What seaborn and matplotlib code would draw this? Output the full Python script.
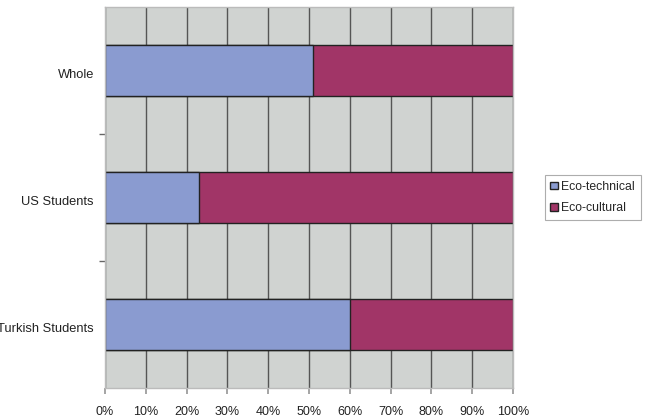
import matplotlib
matplotlib.use("Agg")
import matplotlib.pyplot as plt
import matplotlib.transforms as mtrans
import seaborn as sns
import pandas as pd

groups = ["Whole", "US Students", "Turkish Students"]
eco_technical = [51, 23, 60]
eco_cultural = [49, 77, 40]
x_ticks = [0, 10, 20, 30, 40, 50, 60, 70, 80, 90, 100]

blue = "#8a9bd0"
crimson = "#a13567"

sns.set_theme(style="white")
plt.rcParams["font.family"] = ["Liberation Sans", "DejaVu Sans"]

df = pd.DataFrame({"group": groups, "tech": eco_technical,
                   "total": [a + b for a, b in zip(eco_technical, eco_cultural)]})

fig = plt.figure(figsize=(6.48, 4.17), dpi=100)
ax = fig.add_axes([105 / 648, 29 / 417, 408 / 648, 381 / 417])
ax.set_facecolor("#d0d3d1")

# stacked: full bar in crimson, eco-technical part drawn over it
sns.barplot(data=df, y="group", x="total", order=groups, color=crimson,
            width=0.4, edgecolor="#222222", linewidth=1, saturation=1,
            ax=ax, label="Eco-cultural")
sns.barplot(data=df, y="group", x="tech", order=groups, color=blue,
            width=0.4, edgecolor="#222222", linewidth=1, saturation=1,
            ax=ax, label="Eco-technical")

ax.set_xlim(0, 100)
ax.set_ylim(2.5, -0.5)
ax.set_xticks(x_ticks)
ax.set_xticklabels([f"{t}%" for t in x_ticks], fontsize=9, color="#222222")
ax.xaxis.grid(True, color="#555555", linewidth=1)
ax.set_axisbelow(True)
ax.set_xlabel("")
ax.set_ylabel("")

ax.set_yticks([0, 1, 2])
ax.set_yticklabels(groups, fontsize=9.3, color="#222222")
ax.set_yticks([0.5, 1.5], minor=True)
ax.tick_params(axis="y", which="major", length=0, pad=8)
ax.tick_params(axis="y", which="minor", length=4, color="#666666", left=True)
ax.tick_params(axis="x", which="major", length=4, color="#999999", bottom=True, pad=9)
off = mtrans.ScaledTranslation(0, -3 / 100, fig.dpi_scale_trans)
for lbl in ax.get_yticklabels():
    lbl.set_transform(lbl.get_transform() + off)

for s in ["top", "right", "bottom", "left"]:
    ax.spines[s].set_color("#bbbbbb")
    ax.spines[s].set_linewidth(1)

handles, labels = ax.get_legend_handles_labels()
order = [labels.index("Eco-technical"), labels.index("Eco-cultural")]
leg = ax.legend([handles[i] for i in order], [labels[i] for i in order],
                loc="center left", bbox_to_anchor=(1.063, 0.5), fontsize=8.8,
                frameon=True, fancybox=False, edgecolor="#999999",
                handlelength=0.6, handleheight=0.6, handletextpad=0.3,
                borderpad=0.45, labelspacing=0.75)
leg.get_frame().set_linewidth(0.8)

fig.savefig("out.png", dpi=100)
